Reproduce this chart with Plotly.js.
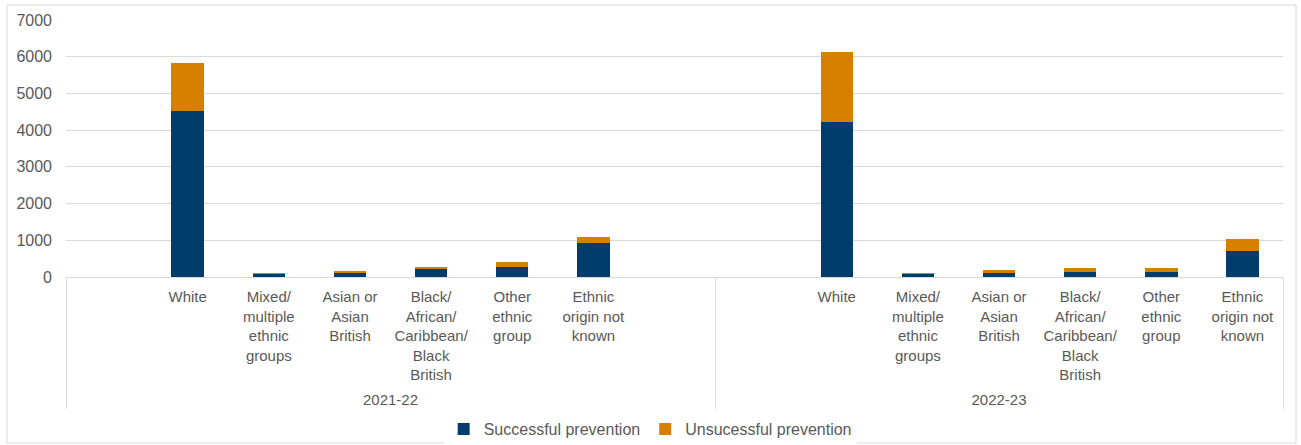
<!DOCTYPE html>
<html>
<head>
<meta charset="utf-8">
<script src="https://cdn.plot.ly/plotly-3.0.1.min.js"></script>
<style>
  html, body { margin: 0; padding: 0; background: #ffffff; }
  #chart { width: 1301px; height: 445px; }
</style>
</head>
<body>
<div id="chart"></div>
<script>
// Reporting years (outer axis level)
const periods = ["2021-22", "2022-23"];

// Ethnic groups (inner axis level); the trailing raised blank on the tallest
// label leaves breathing room above the year labels
const ethnicGroups = [
  "White",
  "Mixed/<br>multiple<br>ethnic<br>groups",
  "Asian or<br>Asian<br>British",
  "Black/<br>African/<br>Caribbean/<br>Black<br>British<br><sup>\u00a0</sup>",
  "Other<br>ethnic<br>group",
  "Ethnic<br>origin not<br>known"
];

// Outcomes per ethnic group, by year
const successful2122   = [4525, 95, 120, 220, 270, 935];
const unsuccessful2122 = [1300, 25, 55, 45, 150, 165];
const successful2223   = [4225, 80, 120, 145, 145, 710];
const unsuccessful2223 = [1890, 30, 70, 100, 90, 325];

const seriesNames = ["Successful prevention", "Unsucessful prevention"];
const seriesColors = ["#003d6b", "#d97f00"];

// Category slots: an empty slot pads each year block like the source table layout
const slotsA = [" "].concat(ethnicGroups, ["  "]);
const slotsB = [" "].concat(ethnicGroups);

const outer = slotsA.map(() => periods[0]).concat(slotsB.map(() => periods[1]));
const inner = slotsA.concat(slotsB);

function withGaps(a, b) {
  return [null].concat(a, [null], [null], b);
}

const traces = [
  {
    type: "bar",
    name: seriesNames[0],
    x: [outer, inner],
    y: withGaps(successful2122, successful2223),
    marker: { color: seriesColors[0] },
    hoverinfo: "y+name"
  },
  {
    type: "bar",
    name: seriesNames[1],
    x: [outer, inner],
    y: withGaps(unsuccessful2122, unsuccessful2223),
    marker: { color: seriesColors[1] },
    hoverinfo: "y+name"
  }
];

const textColor = "#595959";
const gridColor = "#d9d9d9";

const layout = {
  width: 1301,
  height: 445,
  margin: { l: 66, r: 18, t: 20, b: 168 },
  paper_bgcolor: "#ffffff",
  plot_bgcolor: "#ffffff",
  barmode: "stack",
  bargap: 0.6,
  font: { family: "Liberation Sans, Arial, sans-serif", size: 15, color: textColor },
  showlegend: true,
  legend: {
    orientation: "h",
    x: 0.48, xanchor: "center",
    yref: "container",
    y: 0.036, yanchor: "middle",
    font: { size: 16, color: textColor },
    traceorder: "normal"
  },
  xaxis: {
    type: "multicategory",
    automargin: false,
    tickangle: 0,
    showline: true,
    linecolor: gridColor,
    linewidth: 1,
    showdividers: true,
    dividercolor: gridColor,
    dividerwidth: 1,
    ticks: "",
    ticklabelstandoff: 6,
    tickfont: { size: 15, color: textColor },
    fixedrange: true
  },
  yaxis: {
    automargin: false,
    range: [0, 7000],
    dtick: 1000,
    showgrid: true,
    gridcolor: gridColor,
    gridwidth: 1,
    zeroline: false,
    showline: false,
    ticks: "",
    ticklabelstandoff: 13,
    tickfont: { size: 16, color: textColor },
    fixedrange: true
  },
  shapes: [
    {
      type: "rect",
      xref: "paper", yref: "paper",
      x0: -0.0485, x1: 1.0107,
      y0: -0.646, y1: 1.058,
      line: { color: gridColor, width: 1 },
      fillcolor: "rgba(0,0,0,0)",
      layer: "below"
    }
  ]
};

Plotly.newPlot("chart", traces, layout, { displayModeBar: false, staticPlot: true });
</script>
</body>
</html>
